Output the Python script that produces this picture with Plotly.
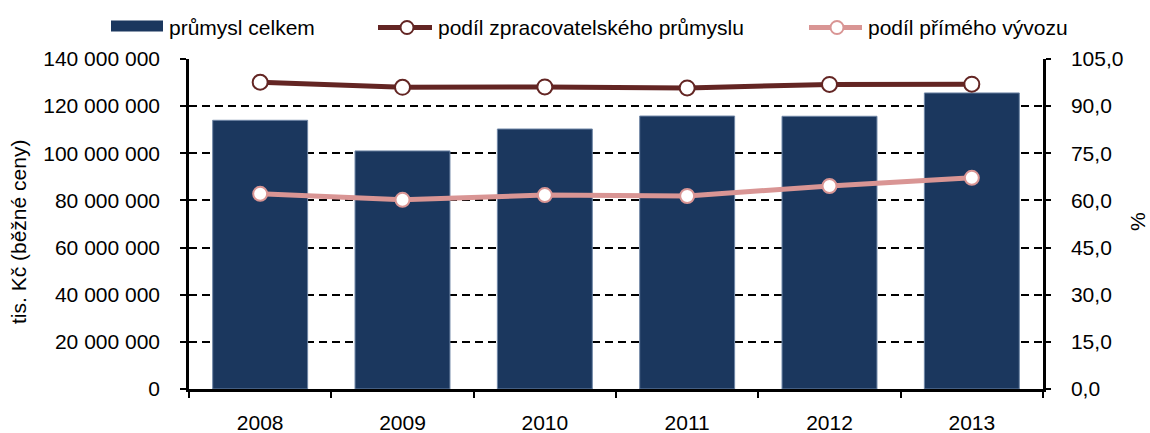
import plotly.graph_objects as go

# ---- data ----
years = ["2008", "2009", "2010", "2011", "2012", "2013"]
prumysl_celkem = [114000000, 101000000, 110300000, 115800000, 115700000, 125600000]
podil_zpracovatelskeho = [97.6, 96.0, 96.1, 95.8, 96.9, 97.0]
podil_primeho_vyvozu = [62.1, 60.2, 61.7, 61.4, 64.6, 67.2]

name_bar = "průmysl celkem"
name_l1 = "podíl zpracovatelského průmyslu"
name_l2 = "podíl přímého vývozu"

C_BAR = "#1B375E"
C_L1 = "#632523"
C_L2 = "#D99594"
FONT = "Liberation Sans, Arial, sans-serif"
FS = 21

W, H = 1150, 433
ML, MR, MT, MB = 189, 107, 59, 44
PW, PH = W - ML - MR, H - MT - MB


def px(x):
    return (x - ML) / PW


def py(y):
    return (H - MB - y) / PH


fig = go.Figure()
fig.add_trace(go.Bar(
    x=years, y=prumysl_celkem, name=name_bar, width=0.667,
    marker=dict(color=C_BAR, line=dict(color="#6F86A6", width=1)),
    yaxis="y", showlegend=False,
))
fig.add_trace(go.Scatter(
    x=years, y=podil_zpracovatelskeho, name=name_l1, mode="lines+markers",
    line=dict(color=C_L1, width=5),
    marker=dict(size=15, color="white", line=dict(color=C_L1, width=2)),
    yaxis="y2", showlegend=False,
))
fig.add_trace(go.Scatter(
    x=years, y=podil_primeho_vyvozu, name=name_l2, mode="lines+markers",
    line=dict(color=C_L2, width=5),
    marker=dict(size=14, color="white", line=dict(color=C_L2, width=2)),
    yaxis="y2", showlegend=False,
))

shapes = []
annotations = []
# custom legend
shapes.append(dict(type="rect", xref="paper", yref="paper",
                   x0=px(111), x1=px(163), y0=py(31.5), y1=py(20.5),
                   fillcolor=C_BAR, line=dict(width=0)))
annotations.append(dict(xref="paper", yref="paper", x=px(167), y=py(27),
                        xanchor="left", yanchor="middle", text=name_bar,
                        showarrow=False, font=dict(family=FONT, size=FS, color="black")))
for (x0, x1, xc, xt, col, name) in [(378, 432, 407, 436, C_L1, name_l1),
                                    (809, 862, 837, 866, C_L2, name_l2)]:
    shapes.append(dict(type="line", xref="paper", yref="paper",
                       x0=px(x0), x1=px(x1), y0=py(27.5), y1=py(27.5),
                       line=dict(color=col, width=5)))
    r = 6.5
    shapes.append(dict(type="circle", xref="paper", yref="paper",
                       x0=px(xc - r), x1=px(xc + r), y0=py(27.5 + r), y1=py(27.5 - r),
                       fillcolor="white", line=dict(color=col, width=2)))
    annotations.append(dict(xref="paper", yref="paper", x=px(xt), y=py(27),
                            xanchor="left", yanchor="middle", text=name,
                            showarrow=False, font=dict(family=FONT, size=FS, color="black")))

# axis titles
annotations.append(dict(xref="paper", yref="paper", x=px(19), y=py(232),
                        xanchor="center", yanchor="middle", textangle=-90,
                        text="tis. Kč (běžné ceny)", showarrow=False,
                        font=dict(family=FONT, size=FS, color="black")))
annotations.append(dict(xref="paper", yref="paper", x=px(1137), y=py(222),
                        xanchor="center", yanchor="middle", textangle=-90,
                        text="%", showarrow=False,
                        font=dict(family=FONT, size=FS, color="black")))

fig.update_layout(
    width=W, height=H,
    margin=dict(l=ML, r=MR, t=MT, b=MB, pad=0, autoexpand=False),
    paper_bgcolor="white", plot_bgcolor="white",
    separators=", ",
    font=dict(family=FONT, size=FS, color="black"),
    showlegend=False,
    bargap=0.333,
    shapes=shapes, annotations=annotations,
    xaxis=dict(
        type="category", showline=True, linecolor="black", linewidth=2.5,
        ticks="outside", ticklen=6, tickwidth=2, tickcolor="black",
        tickson="boundaries", showgrid=False, ticklabelstandoff=13,
        automargin=False,
        tickfont=dict(family=FONT, size=FS, color="black"),
    ),
    yaxis=dict(
        range=[0, 140000000], dtick=20000000, tickformat=",d",
        showline=True, linecolor="black", linewidth=2.5,
        ticks="outside", ticklen=6, tickwidth=2, tickcolor="black",
        showgrid=True, gridcolor="black", gridwidth=1.6, griddash="8px,5px",
        zeroline=False, ticklabelstandoff=16, automargin=False,
        tickfont=dict(family=FONT, size=FS, color="black"),
    ),
    yaxis2=dict(
        range=[0, 105], dtick=15, tickformat=".1f",
        overlaying="y", side="right",
        showline=True, linecolor="black", linewidth=2.5,
        ticks="outside", ticklen=5, tickwidth=2, tickcolor="black",
        showgrid=False, zeroline=False, ticklabelstandoff=16, automargin=False,
        tickfont=dict(family=FONT, size=FS, color="black"),
    ),
)

fig.write_html("out.html", config={"displayModeBar": False},
               post_script="document.body.style.margin='0';")
